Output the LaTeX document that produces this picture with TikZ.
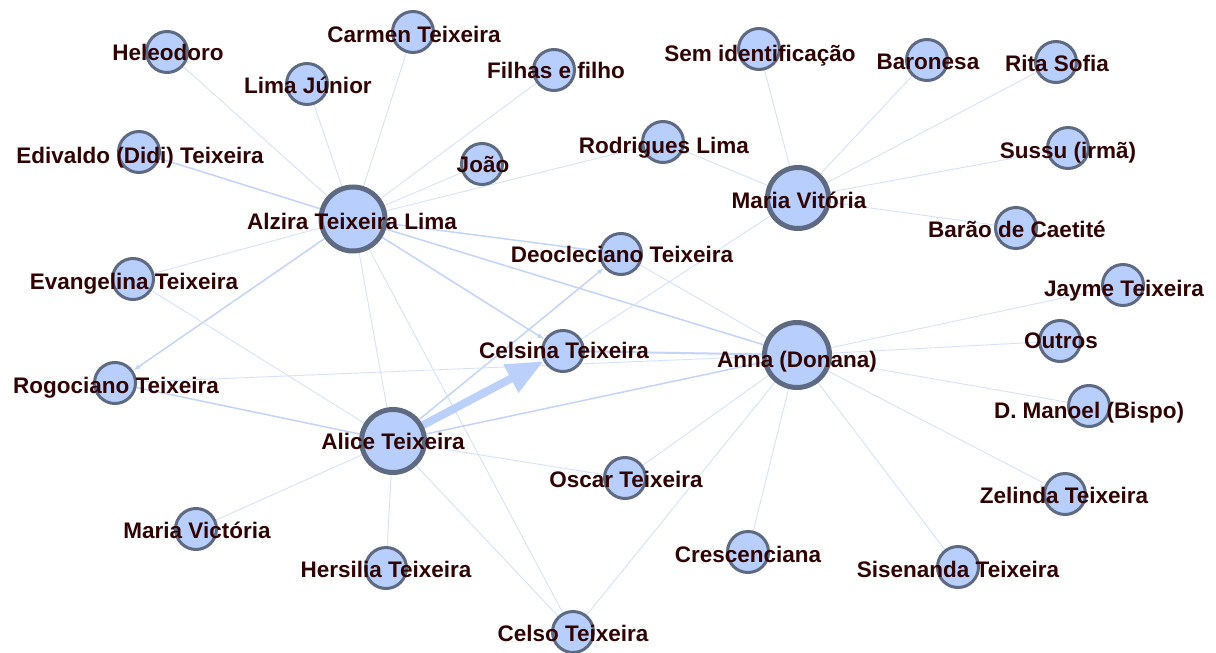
\documentclass[tikz,border=0pt]{standalone}
\usepackage{fontspec}
\setmainfont{Liberation Sans}
\usetikzlibrary{arrows.meta}
\definecolor{ndfill}{RGB}{184,206,252}
\definecolor{ndline}{RGB}{94,106,130}
\definecolor{lblcol}{RGB}{48,4,4}
\definecolor{edgethin}{RGB}{214,226,252}
\definecolor{edgemed}{RGB}{194,212,251}
\definecolor{arrowcol}{RGB}{188,208,252}
\pgfdeclarelayer{edges}
\pgfsetlayers{edges,main}
\tikzset{
  nd/.style={circle, draw=ndline, fill=ndfill, line width=3pt, minimum size=41pt, inner sep=0pt},
  hub/.style={nd, line width=5pt, minimum size=64pt},
  lbl/.style={font=\bfseries\fontsize{22.5}{26}\selectfont, text=lblcol, anchor=base, inner sep=0pt},
  thin edge/.style={draw=edgethin, line width=0.9pt},
  med edge/.style={draw=edgemed, line width=1.5pt},
  small tip/.style={-{Latex[length=7pt,width=5pt]}},
  big arrow/.style={draw=arrowcol, line width=8pt, -{Triangle[length=37pt,width=30pt]}},
}
\begin{document}
\begin{tikzpicture}[x=1pt,y=-1pt]
\useasboundingbox (0,0) rectangle (1216,653);

% circles
\node[nd]  (hel) at (167,52)  {};
\node[nd]  (car) at (413,32)  {};
\node[nd]  (lim) at (307,84)  {};
\node[nd]  (fil) at (554,70)  {};
\node[nd]  (edi) at (139,152) {};
\node[nd]  (joa) at (482,164) {};
\node[hub] (alz) at (353,219) {};
\node[nd]  (eva) at (133,279) {};
\node[nd]  (deo) at (621,254) {};
\node[nd]  (cel) at (563,351) {};
\node[hub, minimum size=61pt] (mvi) at (798,198) {};
\node[nd]  (sem) at (759,49)  {};
\node[nd]  (bar) at (927,60)  {};
\node[nd]  (rit) at (1056,62) {};
\node[nd]  (rod) at (663,142) {};
\node[nd]  (sus) at (1068,148) {};
\node[nd]  (bac) at (1016,228) {};
\node[nd]  (jay) at (1123,285) {};
\node[nd]  (out) at (1060,341) {};
\node[hub, minimum size=65pt] (ann) at (797,355) {};
\node[nd]  (man) at (1089,406) {};
\node[nd]  (zel) at (1065,494) {};
\node[nd]  (cre) at (748,552) {};
\node[nd]  (sis) at (958,567) {};
\node[nd]  (osc) at (625,478) {};
\node[nd]  (rog) at (115,383) {};
\node[hub, minimum size=63pt] (ali) at (393,441) {};
\node[nd]  (mvc) at (196,529) {};
\node[nd]  (her) at (386,568) {};
\node[nd]  (cls) at (573,632) {};

% labels
\node[lbl] (hel-t) at (168,60)  {Heleodoro};
\node[lbl] (car-t) at (414,42)  {Carmen Teixeira};
\node[lbl] (lim-t) at (308,93)  {Lima Júnior};
\node[lbl] (fil-t) at (556,78)  {Filhas e filho};
\node[lbl] (edi-t) at (140,163) {Edivaldo (Didi) Teixeira};
\node[lbl] (joa-t) at (483,172) {João};
\node[lbl] (alz-t) at (352,229) {Alzira Teixeira Lima};
\node[lbl] (eva-t) at (134,289) {Evangelina Teixeira};
\node[lbl] (deo-t) at (622,262) {Deocleciano Teixeira};
\node[lbl] (cel-t) at (564,358) {Celsina Teixeira};
\node[lbl] (mvi-t) at (799,208) {Maria Vitória};
\node[lbl] (sem-t) at (760,61)  {Sem identificação};
\node[lbl] (bar-t) at (928,69)  {Baronesa};
\node[lbl] (rit-t) at (1057,71) {Rita Sofia};
\node[lbl] (rod-t) at (664,153) {Rodrigues Lima};
\node[lbl] (sus-t) at (1068,158) {Sussu (irmã)};
\node[lbl] (bac-t) at (1017,237) {Barão de Caetité};
\node[lbl] (jay-t) at (1124,296) {Jayme Teixeira};
\node[lbl] (out-t) at (1061,348) {Outros};
\node[lbl] (ann-t) at (797,367) {Anna (Donana)};
\node[lbl] (man-t) at (1089,418) {D. Manoel (Bispo)};
\node[lbl] (zel-t) at (1064,503) {Zelinda Teixeira};
\node[lbl] (cre-t) at (748,562) {Crescenciana};
\node[lbl] (sis-t) at (958,577) {Sisenanda Teixeira};
\node[lbl] (osc-t) at (626,487) {Oscar Teixeira};
\node[lbl] (rog-t) at (116,393) {Rogociano Teixeira};
\node[lbl] (ali-t) at (393,449) {Alice Teixeira};
\node[lbl] (mvc-t) at (197,538) {Maria Victória};
\node[lbl] (her-t) at (386,577) {Hersilia Teixeira};
\node[lbl] (cls-t) at (573,641) {Celso Teixeira};

% connectors, kept underneath the circles
\begin{pgfonlayer}{edges}
  \fill[white] (0,0) rectangle (1216,653);
  % Alzira Teixeira Lima
  \draw[thin edge] (alz) -- (hel);
  \draw[thin edge] (alz) -- (lim);
  \draw[thin edge] (alz) -- (car);
  \draw[thin edge] (alz) -- (fil);
  \draw[thin edge] (alz) -- (joa);
  \draw[thin edge] (alz) -- (rod);
  \draw[med edge]  (alz) -- (edi);
  \draw[thin edge] (alz) -- (eva);
  \draw[med edge, small tip] (alz) -- (rog);
  \draw[med edge]  (alz) -- (deo);
  \draw[med edge]  (alz) -- (ann);
  \draw[med edge, small tip] (alz) -- (cel);
  \draw[thin edge] (alz) -- (ali);
  \draw[thin edge] (alz) -- (cls);
  % Maria Vitória
  \draw[thin edge] (mvi) -- (rod);
  \draw[thin edge] (mvi) -- (sem);
  \draw[thin edge] (mvi) -- (bar);
  \draw[thin edge] (mvi) -- (rit);
  \draw[thin edge] (mvi) -- (sus);
  \draw[thin edge] (mvi) -- (bac);
  \draw[thin edge] (mvi) -- (cel);
  % Alice Teixeira
  \draw[med edge, small tip] (ali) -- (deo);
  \draw[med edge]  (ali) -- (rog);
  \draw[thin edge] (ali) -- (eva);
  \draw[thin edge] (ali) -- (mvc);
  \draw[thin edge] (ali) -- (her);
  \draw[thin edge] (ali) -- (cls);
  \draw[thin edge] (ali) -- (osc);
  \draw[med edge]  (ali) -- (ann);
  % Anna (Donana)
  \draw[thin edge] (rog) -- (ann);
  \draw[med edge, line width=2pt] (cel) -- (ann);
  \draw[thin edge] (deo) -- (ann);
  \draw[thin edge] (ann) -- (jay);
  \draw[thin edge] (ann) -- (out);
  \draw[thin edge] (ann) -- (man);
  \draw[thin edge] (ann) -- (zel);
  \draw[thin edge] (ann) -- (sis);
  \draw[thin edge] (ann) -- (cre);
  \draw[thin edge] (ann) -- (osc);
  \draw[thin edge] (ann) -- (cls);
  % strongest tie
  \draw[big arrow] (ali) -- (cel);
\end{pgfonlayer}
\end{tikzpicture}
\end{document}
